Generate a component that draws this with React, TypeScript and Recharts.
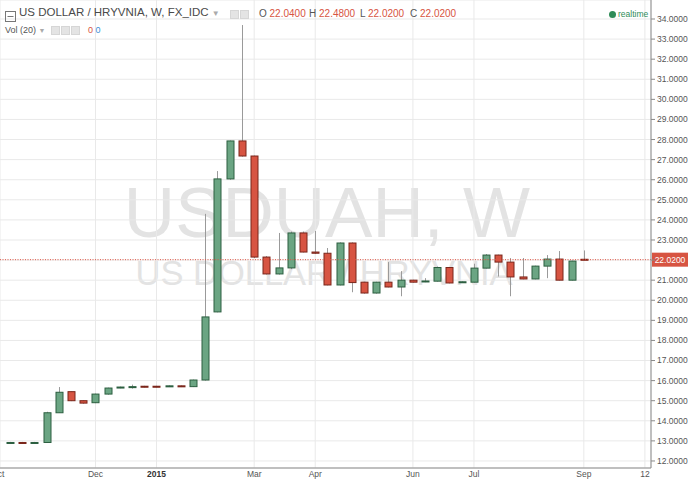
import React from 'react';
import { ComposedChart, Bar, XAxis, YAxis, CartesianGrid, ReferenceLine } from 'recharts';

// weekly candles, Oct 13 2014 .. Sep 7 2015
const OPEN = [12.88, 12.92, 12.88, 12.92, 14.4, 15.45, 15.0, 14.9, 15.33, 15.63, 15.68, 15.72, 15.72, 15.7, 15.74, 15.7,
  16.03, 19.42, 26.04, 27.93, 27.18, 22.15, 21.31, 21.61, 23.35, 22.4, 22.34, 20.76, 22.85, 20.9, 20.36, 20.9,
  20.66, 21.0, 20.92, 20.95, 21.63, 20.88, 20.9, 21.6, 22.25, 21.9, 21.16, 21.06, 21.7, 22.05, 21.0, 22.04];
const HIGH = [12.95, 12.95, 12.95, 14.45, 15.68, 15.45, 15.02, 15.35, 15.65, 15.7, 15.8, 15.74, 15.74, 15.76, 15.76, 16.05,
  24.3, 26.43, 27.95, 33.7, 27.2, 22.2, 23.35, 23.42, 23.42, 23.45, 22.6, 22.88, 22.88, 20.92, 20.92, 21.9,
  21.45, 21.02, 21.1, 21.68, 21.65, 20.94, 21.82, 22.3, 22.27, 22.1, 22.1, 21.72, 22.25, 22.45, 21.97, 22.48];
const LOW = [12.85, 12.85, 12.85, 12.9, 14.4, 14.98, 14.85, 14.88, 15.3, 15.62, 15.6, 15.66, 15.66, 15.68, 15.68, 15.68,
  16.0, 19.4, 26.0, 27.15, 22.1, 21.28, 21.28, 21.55, 22.38, 22.3, 20.74, 20.74, 20.4, 20.33, 20.33, 20.64,
  20.2, 20.88, 20.9, 20.93, 20.84, 20.86, 20.88, 21.58, 21.18, 20.2, 21.04, 21.04, 21.1, 20.98, 20.98, 22.02];
const CLOSE = [12.92, 12.88, 12.92, 14.4, 15.42, 15.0, 14.88, 15.33, 15.63, 15.68, 15.7, 15.68, 15.68, 15.74, 15.7, 16.03,
  19.17, 26.04, 27.93, 27.18, 22.15, 21.31, 21.61, 23.35, 22.4, 22.34, 20.76, 22.85, 20.88, 20.36, 20.9, 20.66,
  21.0, 20.9, 20.96, 21.63, 20.86, 20.92, 21.6, 22.25, 21.9, 21.16, 21.06, 21.7, 22.05, 21.0, 21.95, 22.02];

const X_TICKS = [-1, 7, 12, 20, 25, 33, 38, 47, 52];
const X_LABELS = ['Oct', 'Dec', '2015', 'Mar', 'Apr', 'Jun', 'Jul', 'Sep', '12'];
const Y_TICKS = [12, 13, 14, 15, 16, 17, 18, 19, 20, 21, 22, 23, 24, 25, 26, 27, 28, 29, 30, 31, 32, 33, 34];
const LAST_PRICE = 22.02;

const data = OPEN.map((o, i) => ({ i, o, h: HIGH[i], l: LOW[i], c: CLOSE[i] }));

const FONT = '"Liberation Sans", Arial, sans-serif';
const UP = '#6ba583';
const DOWN = '#d75442';

const Candle = (props: any) => {
  const { x, y, width, height, payload } = props;
  if (x == null || !payload) return null;
  const top = Math.min(y, y + height);
  const bot = Math.max(y, y + height);
  const { o, h, l, c } = payload;
  const span = h - l || 1;
  const py = (v: number) => top + ((h - v) / span) * (bot - top);
  const cx = Math.round(x + width / 2) + 0.5;
  const up = c >= o;
  const bTop = py(Math.max(o, c));
  const bH = Math.max(py(Math.min(o, c)) - bTop, 1);
  return (
    <g>
      <line x1={cx} x2={cx} y1={top} y2={bot} stroke="#9a9a9a" strokeWidth={1} />
      <rect x={cx - 3.5} y={bTop} width={7} height={bH} fill={up ? UP : DOWN} stroke={up ? '#2c5f40' : '#7a261b'} strokeWidth={1} />
    </g>
  );
};

const XTick = (props: any) => {
  const { x, y, payload } = props;
  const idx = X_TICKS.indexOf(payload.value);
  const label = X_LABELS[idx] ?? '';
  return (
    <text x={x} y={y} dy="0.71em" textAnchor="middle" fontSize={8.5} fontFamily={FONT}
      fill={label === '2015' ? '#333' : '#555'} fontWeight={label === '2015' ? 'bold' : 'normal'}>
      {label}
    </text>
  );
};

// the last-price tag covers the 22.0000 label, so that one is not drawn
const YTick = (props: any) => {
  const { x, y, payload } = props;
  if (Math.abs(payload.value - LAST_PRICE) < 0.5) return null;
  return (
    <text x={x} y={y} dy="0.35em" textAnchor="start" fontSize={8.5} fontFamily={FONT} fill="#555">
      {Number(payload.value).toFixed(4)}
    </text>
  );
};

const PriceTag = (props: any) => {
  const vb = props.viewBox || {};
  const px = (vb.x || 0) + (vb.width || 0);
  const py = vb.y || 0;
  return (
    <g>
      <rect x={px + 1} y={py - 7} width={36} height={14} fill={DOWN} />
      <text x={px + 19} y={py} dy="0.35em" textAnchor="middle" fontSize={8.5} fontFamily={FONT} fill="#fff">
        {LAST_PRICE.toFixed(4)}
      </text>
    </g>
  );
};

const Sq = ({ left }: { left: number }) => (
  <div style={{ position: 'absolute', left, top: 0, width: 9, height: 9, background: '#e4e4e4', border: '1px solid #d6d6d6', boxSizing: 'border-box' }} />
);

export default function App() {
  return (
    <div style={{ position: 'relative', width: 688, height: 487, background: '#fff', fontFamily: FONT, overflow: 'hidden' }}>
      <style>{'body{margin:0}'}</style>
      <svg width={688} height={487} style={{ position: 'absolute', left: 0, top: 0 }}>
        <text x={327} y={237} textAnchor="middle" fontSize={71} fontFamily={FONT} fill="#e3e3e3">USDUAH, W</text>
        <text x={324} y={285} textAnchor="middle" fontSize={34.5} fontFamily={FONT} fill="#e3e3e3">US DOLLAR / HRYVNIA</text>
      </svg>
      <div style={{ position: 'absolute', left: 0, top: 0 }}>
        <ComposedChart width={688} height={487} data={data} margin={{ top: 0, right: 0, bottom: 0, left: 0 }}>
          <CartesianGrid stroke="#e9e9e9" />
          <XAxis dataKey="i" type="number" domain={[-0.82, 52.5]} allowDataOverflow ticks={X_TICKS} interval={0}
            height={19} tickLine={false} tickSize={0} tickMargin={3} axisLine={{ stroke: '#8a8a8a' }} tick={<XTick />} />
          <YAxis orientation="right" type="number" domain={[11.65, 34.946]} allowDataOverflow ticks={Y_TICKS} interval={0}
            width={37} tickSize={4} tickMargin={2} axisLine={{ stroke: '#8a8a8a' }} tickLine={{ stroke: '#8a8a8a' }}
            tick={<YTick />} />
          <ReferenceLine y={LAST_PRICE} stroke="#e0523f" strokeDasharray="1 1.5" label={<PriceTag />} />
          <Bar dataKey={(d: any) => [d.l, d.h]} shape={Candle} barSize={8} isAnimationActive={false} />
        </ComposedChart>
      </div>
      {/* legend header */}
      <div style={{ position: 'absolute', left: 5, top: 8 }}>
        <svg width={11} height={11}>
          <rect x={0.5} y={0.5} width={10} height={10} fill="none" stroke="#777" />
          <line x1={2.5} x2={8.5} y1={5.5} y2={5.5} stroke="#777" />
        </svg>
      </div>
      <div style={{ position: 'absolute', left: 19, top: 6, fontSize: 11.5, color: '#4a4a4a', whiteSpace: 'nowrap' }}>
        US DOLLAR / HRYVNIA, W, FX_IDC <span style={{ fontSize: 8, color: '#aaa' }}>▼</span>
      </div>
      <div style={{ position: 'absolute', left: 230, top: 10 }}>
        <Sq left={0} /><Sq left={10} />
      </div>
      {[['O', '22.0400', 259], ['H', '22.4800', 309], ['L', '22.0200', 360], ['C', '22.0200', 410]].map(([k, v, x]) => (
        <div key={k as string} style={{ position: 'absolute', left: x as number, top: 8, fontSize: 10, whiteSpace: 'nowrap' }}>
          <span style={{ color: '#555' }}>{k}</span> <span style={{ color: '#d75442' }}>{v}</span>
        </div>
      ))}
      <div style={{ position: 'absolute', left: 5, top: 25, fontSize: 9, color: '#555', whiteSpace: 'nowrap' }}>
        Vol (20) <span style={{ fontSize: 7, color: '#aaa' }}>▼</span>
      </div>
      <div style={{ position: 'absolute', left: 51, top: 26 }}>
        <Sq left={0} /><Sq left={10} /><Sq left={20} />
      </div>
      <div style={{ position: 'absolute', left: 88, top: 25, fontSize: 9, whiteSpace: 'nowrap' }}>
        <span style={{ color: '#d75442' }}>0</span> <span style={{ color: '#3c8fd6' }}>0</span>
      </div>
      <div style={{ position: 'absolute', left: 609, top: 10.5, width: 7, height: 7, borderRadius: 4, background: '#2e8b57' }} />
      <div style={{ position: 'absolute', left: 618, top: 8.5, fontSize: 8.5, color: '#2e8b57' }}>realtime</div>
    </div>
  );
}
